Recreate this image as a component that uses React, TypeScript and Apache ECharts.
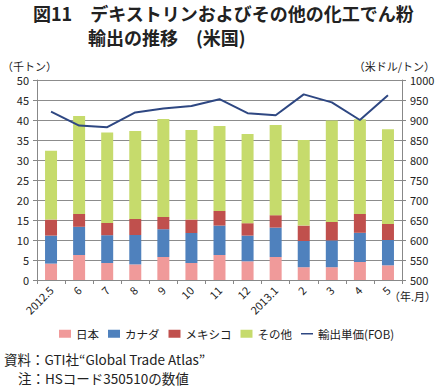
import React, { useEffect, useRef } from "react";
import * as echarts from "echarts";

const categories = ["2012.5", "6", "7", "8", "9", "10", "11", "12", "2013.1", "2", "3", "4", "5"];
const japan = [4.1, 6.25, 4.25, 3.9, 5.75, 4.25, 6.25, 4.67, 5.75, 3.2, 3.2, 4.5, 3.67];
const canada = [7.0, 7.05, 6.95, 7.35, 6.95, 7.5, 7.35, 6.43, 7.35, 6.55, 6.7, 7.3, 6.33];
const mexico = [4.0, 3.2, 3.05, 4.0, 3.05, 3.35, 3.65, 3.1, 3.1, 3.85, 4.6, 4.7, 4.0];
const others = [17.2, 24.5, 22.65, 22.0, 24.5, 22.4, 21.25, 22.3, 22.55, 21.4, 25.4, 23.7, 23.7];
const unitPrice = [921, 886, 882, 919, 929, 935, 952, 917, 912, 964, 944, 900, 962];

const FONT = "'Noto Sans CJK JP', 'Noto Sans', sans-serif";

export default function App() {
  const ref = useRef<HTMLDivElement>(null);
  useEffect(() => {
    const chart = echarts.init(ref.current!, null, { renderer: "svg" });
    const barSeries = (name: string, data: number[], color: string) => ({
      name,
      type: "bar",
      stack: "total",
      data,
      barWidth: 12,
      itemStyle: { color },
      yAxisIndex: 0,
    });
    chart.setOption({
      animation: false,
      textStyle: { fontFamily: FONT },
      grid: { left: 37, right: 37, top: 80, bottom: 108 },
      graphic: [
        { type: "text", left: 33, top: 4, style: { text: "図11　デキストリンおよびその他の化工でん粉", font: `bold 18px ${FONT}`, fill: "#222" } },
        { type: "text", left: 88, top: 28, style: { text: "輸出の推移　(米国)", font: `bold 18px ${FONT}`, fill: "#222" } },
        { type: "text", left: 2, top: 60, style: { text: "（千トン）", font: `11px ${FONT}`, fill: "#222" } },
        { type: "text", right: 4, top: 60, style: { text: "（米ドル/トン）", font: `11px ${FONT}`, fill: "#222" } },
        { type: "text", left: 389, top: 290, style: { text: "（年.月）", font: `11px ${FONT}`, fill: "#222" } },
        { type: "text", left: 4, top: 352, style: { text: "資料：GTI社“Global Trade Atlas”", font: `13.5px ${FONT}`, fill: "#222" } },
        { type: "text", left: 18, top: 371, style: { text: "注：HSコード350510の数値", font: `13.5px ${FONT}`, fill: "#222" } },
      ],
      legend: {
        top: 323,
        left: 54,
        itemWidth: 12,
        itemHeight: 8,
        itemGap: 9,
        textStyle: { fontSize: 11.5, color: "#222", fontFamily: FONT },
        data: [
          { name: "日本", icon: "rect" },
          { name: "カナダ", icon: "rect" },
          { name: "メキシコ", icon: "rect" },
          { name: "その他", icon: "rect" },
          { name: "輸出単価(FOB)", icon: "path://M0,0 L20,0 L20,2.5 L0,2.5 Z" },
        ],
      },
      xAxis: {
        type: "category",
        data: categories,
        axisLine: { lineStyle: { color: "#888" } },
        axisTick: { show: true, alignWithLabel: false, length: 4, lineStyle: { color: "#888" } },
        axisLabel: { rotate: 45, fontSize: 11, color: "#222", margin: 8, interval: 0 },
      },
      yAxis: [
        {
          type: "value",
          min: 0,
          max: 50,
          interval: 5,
          axisLine: { show: true, lineStyle: { color: "#888" } },
          axisTick: { show: true, length: 4, lineStyle: { color: "#888" } },
          axisLabel: { fontSize: 11, color: "#222" },
          splitLine: { lineStyle: { color: "#8c8c8c" } },
        },
        {
          type: "value",
          min: 500,
          max: 1000,
          interval: 50,
          position: "right",
          axisLine: { show: true, lineStyle: { color: "#888" } },
          axisTick: { show: true, length: 4, lineStyle: { color: "#888" } },
          axisLabel: { fontSize: 11, color: "#222", formatter: (v: number) => String(v) },
          splitLine: { show: false },
        },
      ],
      series: [
        barSeries("日本", japan, "#F09A9A"),
        barSeries("カナダ", canada, "#4F81BD"),
        barSeries("メキシコ", mexico, "#C0504D"),
        barSeries("その他", others, "#C6DB6C"),
        {
          name: "輸出単価(FOB)",
          type: "line",
          yAxisIndex: 1,
          data: unitPrice,
          symbol: "none",
          lineStyle: { color: "#2E4782", width: 2 },
          itemStyle: { color: "#2E4782" },
        },
      ],
    });
    return () => chart.dispose();
  }, []);
  return <div ref={ref} style={{ position: "absolute", left: 0, top: 0, width: 439, height: 388 }} />;
}
